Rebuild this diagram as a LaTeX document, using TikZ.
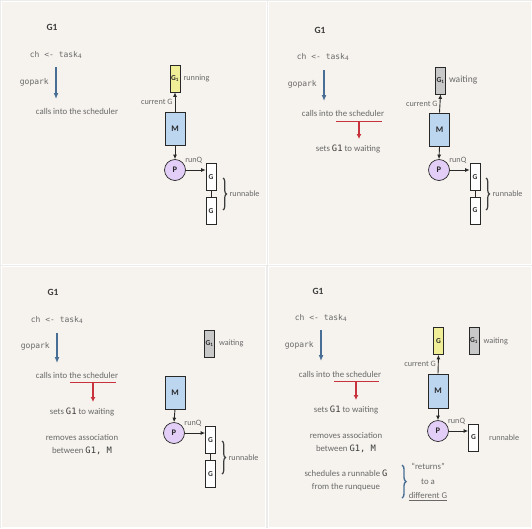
\documentclass[tikz,border=0pt]{standalone}
\usepackage{fontspec}
\setmainfont{Carlito}
\setmonofont{DejaVu Sans Mono}
\usetikzlibrary{decorations.pathreplacing,arrows.meta}
\definecolor{outerbg}{RGB}{236,236,234}
\definecolor{panelbg}{RGB}{246,243,238}
\definecolor{txtgray}{RGB}{105,105,105}
\definecolor{headgray}{RGB}{60,60,60}
\definecolor{yellowc}{RGB}{240,238,150}
\definecolor{bluec}{RGB}{188,214,240}
\definecolor{lavc}{RGB}{226,206,246}
\definecolor{grayc}{RGB}{200,200,200}
\definecolor{arrblue}{RGB}{72,110,150}
\definecolor{arrred}{RGB}{200,50,60}
\definecolor{linec}{RGB}{40,40,40}
\begin{document}
\begin{tikzpicture}[x=1pt,y=-1pt,
  panel/.style={fill=panelbg,draw=white,line width=1pt},
  head/.style={font=\fontsize{9.5}{10}\selectfont\bfseries,text=headgray,inner sep=0pt},
  code/.style={font=\ttfamily\fontsize{8}{9}\selectfont,text=txtgray,inner sep=0pt},
  txt/.style={font=\fontsize{8.8}{12.5}\selectfont,text=txtgray,inner sep=0pt,align=center},
  lbl/.style={font=\fontsize{8.2}{9}\selectfont,text=txtgray,inner sep=1pt},
  gbox/.style={draw=linec,line width=0.7pt,fill=white,minimum width=10pt,minimum height=27pt,inner sep=0pt,font=\fontsize{7.5}{8}\selectfont\bfseries,text=linec},
  mbox/.style={draw=linec,line width=0.7pt,fill=bluec,minimum width=20pt,minimum height=33pt,inner sep=0pt,font=\fontsize{8.5}{9}\selectfont\bfseries,text=linec},
  pcirc/.style={circle,draw=linec,line width=0.7pt,fill=lavc,minimum size=21pt,inner sep=0pt,font=\fontsize{8.5}{9}\selectfont\bfseries,text=linec},
  arr/.style={-{Latex[length=4.5pt,width=4pt]},line width=0.9pt,draw=linec},
  bluearr/.style={-{Latex[length=6pt,width=5pt]},line width=1.2pt,draw=arrblue},
  redarr/.style={-{Latex[length=5pt,width=5pt]},line width=1.1pt,draw=arrred},
  redline/.style={line width=0.9pt,draw=arrred},
  brc/.style={decorate,decoration={brace,amplitude=3.5pt},line width=1.2pt,draw=headgray},
  bluebrc/.style={decorate,decoration={brace,amplitude=4pt},line width=1.4pt,draw=arrblue}
]
\useasboundingbox (0,0) rectangle (532,528);
\fill[outerbg] (0,0) rectangle (532,528);
\path[panel] (1,1) rectangle (266.5,264);
\path[panel] (268,1) rectangle (531,264);
\path[panel] (1,266) rectangle (265,527);
\path[panel] (268,266) rectangle (531,527);

% ---------------- Panel A (top-left)
\begin{scope}[shift={(0,0)}]
\node[head] (a-g1) at (52,27) {G1};
\node[code] (a-ch) at (56,55) {ch <- task\textsubscript{4}};
\coordinate (a-as) at (56,67);
\coordinate (a-ae) at (56,99);
\draw[bluearr] (a-as) -- (a-ae);
\node[code,anchor=east] (a-gp) at (49,82) {gopark};
\node[txt] (a-calls) at (77,111) {calls into the scheduler};
\node[gbox,fill=yellowc] (a-g) at (175,78.5) {G\textsubscript{\tiny 1}};
\node[lbl,anchor=west,xshift=2pt] (a-run) at (a-g.east) {running};
\node[mbox] (a-m) at (175,128.5) {M};
\node[pcirc] (a-p) at (175,170) {P};
\node[gbox] (a-q1) at (211,177) {G};
\node[gbox] (a-q2) at (211,211) {G};
\draw[arr] (a-m.north) -- (a-g.south) node[lbl,midway,left=1pt] {current G};
\draw[arr] (a-m.south) -- (a-p.north);
\draw[arr] (a-p.east) -- (a-p.east -| a-q1.west) node[lbl,pos=0.4,above=5pt] {runQ};
\draw[line width=0.8pt,draw=linec] (a-q1.south) -- (a-q2.north);
\coordinate (a-bt) at (223,178);
\coordinate (a-bb) at (223,210);
\draw[brc] (a-bt) -- (a-bb) node[lbl,midway,right=5pt] {runnable};
\end{scope}

% ---------------- Panel B (top-right)
\begin{scope}[shift={(266,0)}]
\node[head] (b-g1) at (54,30) {G1};
\node[code] (b-ch) at (57,57) {ch <- task\textsubscript{4}};
\coordinate (b-as) at (58,70);
\coordinate (b-ae) at (58,101);
\draw[bluearr] (b-as) -- (b-ae);
\node[code,anchor=east] (b-gp) at (51,84) {gopark};
\node[txt] (b-calls) at (77,113) {calls into the scheduler};
\coordinate (b-ul) at (70,121);
\coordinate (b-ur) at (116,121);
\coordinate (b-um) at (93,121);
\coordinate (b-ue) at (93,139);
\draw[redline] (b-ul) -- (b-ur);
\draw[redarr] (b-um) -- (b-ue);
\node[txt] (b-sets) at (82,149) {sets \texttt{\textcolor{headgray}{G1}} to waiting};
\node[gbox,fill=grayc] (b-g) at (174.5,80.5) {G\textsubscript{\tiny 1}};
\node[lbl,anchor=west,xshift=2pt,font=\fontsize{9.5}{10}\selectfont] (b-wait) at (b-g.east) {waiting};
\node[mbox] (b-m) at (173.5,129.5) {M};
\node[pcirc] (b-p) at (173,170) {P};
\node[gbox] (b-q1) at (209,177) {G};
\node[gbox] (b-q2) at (209,210.5) {G};
\draw[arr] (b-m.north) -- (b-g.south) node[lbl,midway,left=1pt] {current G};
\draw[arr] (b-m.south) -- (b-p.north);
\draw[arr] (b-p.east) -- (b-p.east -| b-q1.west) node[lbl,pos=0.4,above=5pt] {runQ};
\draw[line width=0.8pt,draw=linec] (b-q1.south) -- (b-q2.north);
\coordinate (b-bt) at (220,178);
\coordinate (b-bb) at (220,210);
\draw[brc] (b-bt) -- (b-bb) node[lbl,midway,right=5pt] {runnable};
\end{scope}

% ---------------- Panel C (bottom-left)
\begin{scope}[shift={(0,264)}]
\node[head] (c-g1) at (53,28) {G1};
\node[code] (c-ch) at (57,56) {ch <- task\textsubscript{4}};
\coordinate (c-as) at (57,69);
\coordinate (c-ae) at (57,99);
\draw[bluearr] (c-as) -- (c-ae);
\node[code,anchor=east] (c-gp) at (50,82) {gopark};
\node[txt] (c-calls) at (77,111) {calls into the scheduler};
\coordinate (c-ul) at (70,118);
\coordinate (c-ur) at (116,118);
\coordinate (c-um) at (93,118);
\coordinate (c-ue) at (93,138);
\draw[redline] (c-ul) -- (c-ur);
\draw[redarr] (c-um) -- (c-ue);
\node[txt] (c-sets) at (82,148) {sets \texttt{\textcolor{headgray}{G1}} to waiting};
\node[txt] (c-rem) at (82,180.5) {removes association\\between \texttt{\textcolor{headgray}{G1, M}}};
\node[gbox,fill=grayc] (c-g) at (209.5,79.5) {G\textsubscript{\tiny 1}};
\node[lbl,anchor=west,xshift=3pt] (c-wait) at (c-g.east) {waiting};
\node[mbox] (c-m) at (175,128.5) {M};
\node[pcirc] (c-p) at (174,169) {P};
\node[gbox] (c-q1) at (210.5,176) {G};
\node[gbox] (c-q2) at (210.5,210) {G};
\draw[arr] (c-m.south) -- (c-p.north);
\draw[arr] (c-p.east) -- (c-p.east -| c-q1.west) node[lbl,pos=0.4,above=5pt] {runQ};
\draw[line width=0.8pt,draw=linec] (c-q1.south) -- (c-q2.north);
\coordinate (c-bt) at (222,177);
\coordinate (c-bb) at (222,210);
\draw[brc] (c-bt) -- (c-bb) node[lbl,midway,right=5pt] {runnable};
\end{scope}

% ---------------- Panel D (bottom-right)
\begin{scope}[shift={(266,264)}]
\node[head] (d-g1) at (52,27) {G1};
\node[code] (d-ch) at (55,54) {ch <- task\textsubscript{4}};
\coordinate (d-as) at (55,66);
\coordinate (d-ae) at (55,97);
\draw[bluearr] (d-as) -- (d-ae);
\node[code,anchor=east] (d-gp) at (48,81) {gopark};
\node[txt] (d-calls) at (74,110) {calls into the scheduler};
\coordinate (d-ul) at (68,117);
\coordinate (d-ur) at (113,117);
\coordinate (d-um) at (90,117);
\coordinate (d-ue) at (90,136);
\draw[redline] (d-ul) -- (d-ur);
\draw[redarr] (d-um) -- (d-ue);
\node[txt] (d-sets) at (80,146) {sets \texttt{\textcolor{headgray}{G1}} to waiting};
\node[txt] (d-rem) at (80,178.5) {removes association\\between \texttt{\textcolor{headgray}{G1, M}}};
\node[txt] (d-sch) at (80,216.5) {schedules a runnable \texttt{\textcolor{headgray}{G}}\\from the runqueue};
\coordinate (d-bt) at (136,201);
\coordinate (d-bb) at (136,234);
\draw[bluebrc] (d-bt) -- (d-bb);
\node[txt,align=center,font=\fontsize{8.8}{14.5}\selectfont] (d-ret) at (162,218) {``returns''\\to a\\\underline{different G}};
\node[gbox,fill=yellowc] (d-g) at (172.5,77) {G};
\node[gbox,fill=grayc] (d-g1b) at (208,77) {G\textsubscript{\tiny 1}};
\node[lbl,anchor=west,xshift=3pt] (d-wait) at (d-g1b.east) {waiting};
\node[mbox,minimum height=34pt] (d-m) at (172,127) {M};
\node[pcirc] (d-p) at (172,167) {P};
\node[gbox] (d-q1) at (207.5,173.5) {G};
\node[lbl,anchor=west] (d-runn) at (222,174) {runnable};
\draw[arr] (d-m.north) -- (d-g.south) node[lbl,midway,left=1pt] {current G};
\draw[arr] (d-m.south) -- (d-p.north);
\draw[arr] (d-p.east) -- (d-p.east -| d-q1.west) node[lbl,pos=0.4,above=5pt] {runQ};
\end{scope}
\end{tikzpicture}
\end{document}
